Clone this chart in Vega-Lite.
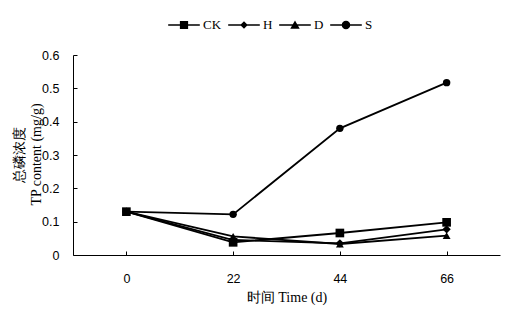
{
  "$schema": "https://vega.github.io/schema/vega-lite/v6.json",
  "width": 427,
  "height": 200,
  "autosize": "none",
  "padding": {"left": 73, "top": 55, "right": 20, "bottom": 55},
  "background": "white",
  "config": {
    "view": {"stroke": null},
    "axis": {
      "domainColor": "black",
      "domainWidth": 1,
      "tickColor": "black",
      "tickWidth": 1,
      "grid": false,
      "labelFont": "Liberation Sans",
      "labelFontSize": 12.5,
      "labelColor": "black",
      "titleFont": "Liberation Serif",
      "titleFontSize": 14,
      "titleFontWeight": "normal",
      "titleColor": "black"
    }
  },
  "data": {
    "values": [
      {"day": 0, "series": "CK", "tp": 0.13},
      {"day": 22, "series": "CK", "tp": 0.038},
      {"day": 44, "series": "CK", "tp": 0.066},
      {"day": 66, "series": "CK", "tp": 0.098},
      {"day": 0, "series": "H", "tp": 0.13},
      {"day": 22, "series": "H", "tp": 0.045},
      {"day": 44, "series": "H", "tp": 0.035},
      {"day": 66, "series": "H", "tp": 0.077},
      {"day": 0, "series": "D", "tp": 0.13},
      {"day": 22, "series": "D", "tp": 0.056},
      {"day": 44, "series": "D", "tp": 0.033},
      {"day": 66, "series": "D", "tp": 0.058},
      {"day": 0, "series": "S", "tp": 0.13},
      {"day": 22, "series": "S", "tp": 0.122},
      {"day": 44, "series": "S", "tp": 0.38},
      {"day": 66, "series": "S", "tp": 0.517}
    ]
  },
  "encoding": {
    "x": {
      "field": "day",
      "type": "ordinal",
      "sort": [0, 22, 44, 66],
      "scale": {"type": "point", "padding": 0.5},
      "axis": {
        "title": "时间 Time (d)",
        "labelAngle": 0,
        "tickSize": -4,
        "labelPadding": 21,
        "titlePadding": 6
      }
    },
    "y": {
      "field": "tp",
      "type": "quantitative",
      "scale": {"domain": [0, 0.6], "nice": false},
      "axis": {
        "title": ["总磷浓度", "TP content (mg/g)"],
        "values": [0, 0.1, 0.2, 0.3, 0.4, 0.5, 0.6],
        "labelExpr": "datum.value == 0 ? '0' : format(datum.value, '.1f')",
        "tickSize": -4,
        "labelPadding": 18,
        "titleX": -54,
        "titleY": 99,
        "titleAngle": 270,
        "titleAlign": "center",
        "titleBaseline": "middle",
        "titleLineHeight": 17,
        "titleLimit": 400
      }
    }
  },
  "layer": [
    {
      "mark": {"type": "line", "color": "black", "strokeWidth": 1.8},
      "encoding": {"detail": {"field": "series"}}
    },
    {
      "mark": {"type": "point", "filled": true, "color": "black", "opacity": 1},
      "encoding": {
        "shape": {
          "field": "series",
          "scale": {"domain": ["CK", "H", "D", "S"], "range": ["square", "diamond", "triangle-up", "circle"]},
          "legend": null
        },
        "size": {
          "field": "series",
          "scale": {"domain": ["CK", "H", "D", "S"], "range": [75, 55, 75, 70]},
          "legend": null
        }
      }
    },
    {
      "mark": {"type": "point", "filled": true, "color": "black", "opacity": 0},
      "encoding": {
        "shape": {
          "field": "series",
          "scale": {
            "domain": ["CK", "H", "D", "S"],
            "range": [
              "M-1,-0.05H1V0.05H-1ZM-0.26,-0.26H0.26V0.26H-0.26Z",
              "M-1,-0.05H1V0.05H-1ZM0,-0.24L0.24,0L0,0.24L-0.24,0Z",
              "M-1,-0.05H1V0.05H-1ZM0,-0.28L0.3,0.24L-0.3,0.24Z",
              "M-1,-0.05H1V0.05H-1ZM0.27,0A0.27,0.27 0 1 1 -0.27,0A0.27,0.27 0 1 1 0.27,0Z"
            ]
          },
          "legend": {
            "title": null,
            "orient": "none",
            "direction": "horizontal",
            "legendX": 95,
            "legendY": -46,
            "symbolSize": 1000,
            "symbolOpacity": 1,
            "symbolFillColor": "black",
            "symbolStrokeColor": "black",
            "symbolStrokeWidth": 0,
            "labelFont": "Liberation Serif",
            "labelFontSize": 13,
            "labelColor": "black",
            "labelOffset": 3,
            "columnPadding": 6,
            "encode": {
              "symbols": {
                "update": {
                  "fill": {"value": "black"},
                  "fillOpacity": {"value": 1},
                  "opacity": {"value": 1}
                }
              }
            }
          }
        }
      }
    }
  ],
  "resolve": {"scale": {"shape": "independent"}}
}
